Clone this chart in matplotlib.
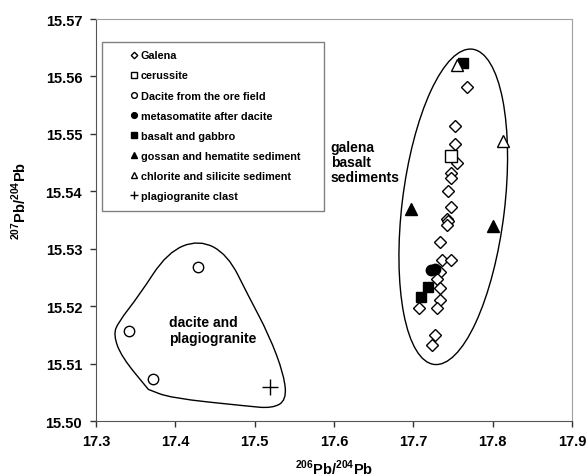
import matplotlib
matplotlib.use("Agg")
import matplotlib.pyplot as plt
from matplotlib.patches import Circle, PathPatch, Rectangle
from matplotlib.path import Path
from matplotlib.transforms import Affine2D

plt.rcParams["font.family"] = ["Liberation Sans", "DejaVu Sans"]
plt.rcParams["font.weight"] = "bold"
plt.rcParams["mathtext.fontset"] = "custom"
plt.rcParams["mathtext.rm"] = "Liberation Sans:bold"
plt.rcParams["mathtext.bf"] = "Liberation Sans:bold"

# 206Pb/204Pb (x) and 207Pb/204Pb (y)
galena_x = [17.768, 17.752, 17.752, 17.755, 17.748, 17.748, 17.744, 17.747, 17.743, 17.744, 17.743,
            17.734, 17.736, 17.747, 17.734, 17.730, 17.734, 17.734, 17.730, 17.707, 17.727, 17.724]
galena_y = [15.5582, 15.5514, 15.5482, 15.5450, 15.5432, 15.5423, 15.5401, 15.5372, 15.5352, 15.5348, 15.5341,
            15.5312, 15.5280, 15.5280, 15.5259, 15.5247, 15.5232, 15.5210, 15.5197, 15.5196, 15.5150, 15.5132]
cerussite_x = [17.747]
cerussite_y = [15.5462]
dacite_x = [17.341, 17.372, 17.428]
dacite_y = [15.5156, 15.5073, 15.5268]
metasomatite_x = [17.722, 17.727]
metasomatite_y = [15.5263, 15.5265]
basalt_x = [17.762, 17.719, 17.710]
basalt_y = [15.5623, 15.5233, 15.5216]
gossan_x = [17.697, 17.800]
gossan_y = [15.5369, 15.5339]
chlorite_x = [17.755, 17.813]
chlorite_y = [15.5620, 15.5488]
plagio_x = [17.519]
plagio_y = [15.5059]

# outline around the dacite / plagiogranite group (control points)
outline_x = [17.430, 17.466, 17.492, 17.518, 17.537, 17.540, 17.522, 17.490, 17.394,
             17.366, 17.366, 17.332, 17.322, 17.328, 17.354, 17.390]
outline_y = [15.5316, 15.5290, 15.5218, 15.5150, 15.5080, 15.5036, 15.5022, 15.5026, 15.5040,
             15.5055, 15.5055, 15.5112, 15.5150, 15.5172, 15.5218, 15.5294]

# ellipse around galena / basalt / sediments: centre, semi-major and semi-minor vectors
ell_centre = (17.7503, 15.5373)
ell_major = (0.02405, 0.02745)
ell_minor = (0.0641, -0.00107)

fig = plt.figure(figsize=(5.88, 4.77), dpi=100)
ax = fig.add_axes([0.1633, 0.1153, 0.8095, 0.8427])

mk = dict(linestyle="none", markeredgecolor="black", markeredgewidth=1.0)
ax.plot(galena_x, galena_y, marker="D", markersize=6, markerfacecolor="white", label="Galena", **mk)
ax.plot(cerussite_x, cerussite_y, marker="s", markersize=8, markerfacecolor="white", label="cerussite", **mk)
ax.plot(dacite_x, dacite_y, marker="o", markersize=7.5, markerfacecolor="white",
        label="Dacite from the ore field", **mk)
ax.plot(metasomatite_x, metasomatite_y, marker="o", markersize=7.5, markerfacecolor="black",
        label="metasomatite after dacite", **mk)
ax.plot(basalt_x, basalt_y, marker="s", markersize=7.5, markerfacecolor="black", label="basalt and gabbro", **mk)
ax.plot(gossan_x, gossan_y, marker="^", markersize=8, markerfacecolor="black",
        label="gossan and hematite sediment", **mk)
ax.plot(chlorite_x, chlorite_y, marker="^", markersize=8.5, markerfacecolor="white",
        label="chlorite and silicite sediment", **mk)
ax.plot(plagio_x, plagio_y, marker="+", markersize=11, markeredgewidth=1.0, linestyle="none",
        color="black", label="plagiogranite clast")

# dacite outline as a closed quadratic spline
pts = list(zip(outline_x, outline_y))
n = len(pts)
mid = lambda a, b: ((a[0] + b[0]) / 2, (a[1] + b[1]) / 2)
verts = [mid(pts[-1], pts[0])]
codes = [Path.MOVETO]
for i in range(n):
    verts += [pts[i], mid(pts[i], pts[(i + 1) % n])]
    codes += [Path.CURVE3, Path.CURVE3]
ax.add_patch(PathPatch(Path(verts, codes), facecolor="none", edgecolor="black", linewidth=1.0))

ell_tf = Affine2D.from_values(ell_major[0], ell_major[1], ell_minor[0], ell_minor[1], *ell_centre)
ax.add_patch(Circle((0, 0), 1, facecolor="none", edgecolor="black", linewidth=1.0,
                    transform=ell_tf + ax.transData))

ax.text(17.596, 15.5451, "galena\nbasalt\nsediments", fontsize=10, fontweight="bold",
        ha="left", va="center", linespacing=1.1)
ax.text(17.3915, 15.51585, "dacite and\nplagiogranite", fontsize=10, fontweight="bold",
        ha="left", va="center", linespacing=1.1)

ax.set_xlim(17.3, 17.9)
ax.set_ylim(15.50, 15.57)
ax.set_xticks([17.3, 17.4, 17.5, 17.6, 17.7, 17.8, 17.9])
ax.set_yticks([15.50, 15.51, 15.52, 15.53, 15.54, 15.55, 15.56, 15.57])
ax.set_yticklabels([f"{v:.2f}" for v in ax.get_yticks()])
ax.tick_params(direction="out", length=4, width=1, labelsize=10.5, colors="#333333", labelcolor="black")
ax.tick_params(axis="y", pad=6)
ax.tick_params(axis="x", pad=5)
for lab in ax.get_xticklabels() + ax.get_yticklabels():
    lab.set_fontweight("bold")
for side in ["left", "bottom"]:
    ax.spines[side].set_color("#555555")
for side in ["top", "right"]:
    ax.spines[side].set_color("#a0a0a0")
ax.set_xlabel("$^{206}$Pb/$^{204}$Pb", fontsize=10.5, fontweight="bold")
ax.set_ylabel("$^{207}$Pb/$^{204}$Pb", fontsize=10.5, fontweight="bold")
ax.xaxis.set_label_coords(0.5, -0.092)
ax.yaxis.set_label_coords(-0.14, 0.55)

# legend with a separate frame (marker sits well inside the box)
ax.add_patch(Rectangle((0.0126, 0.523), 0.4664, 0.420, transform=ax.transAxes, facecolor="white",
                       edgecolor="#808080", linewidth=1.0, zorder=4))
leg = ax.legend(loc="upper left", bbox_to_anchor=(0.074, 0.922), frameon=False, fontsize=7.8,
                markerscale=0.55, handlelength=0.6, handletextpad=0.3, labelspacing=0.93,
                borderpad=0.0, borderaxespad=0.0)
leg.set_zorder(5)
for t in leg.get_texts():
    t.set_fontweight("bold")

fig.savefig("out.png", dpi=100)
